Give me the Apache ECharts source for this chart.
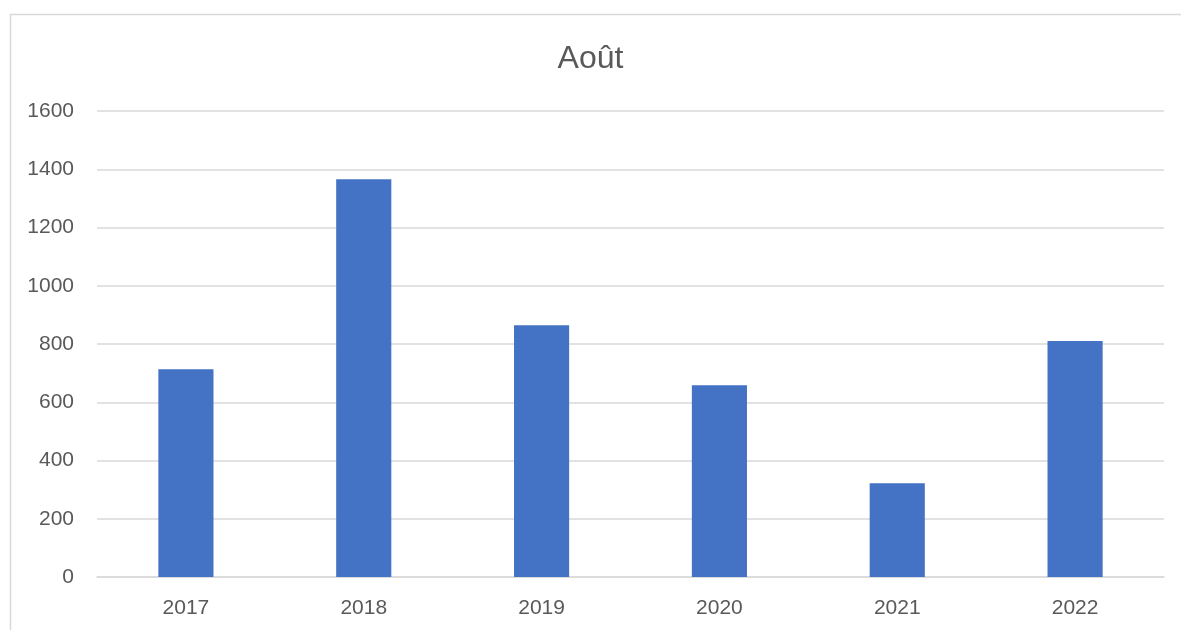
<!DOCTYPE html>
<html>
<head>
<meta charset="utf-8">
<script src="https://cdn.jsdelivr.net/npm/echarts@6/dist/echarts.min.js"></script>
<style>
html,body{margin:0;padding:0;background:#fff;}
#c{width:1181px;height:630px;}
</style>
</head>
<body>
<div id="c"></div>
<script>
const categories = ['2017','2018','2019','2020','2021','2022'];
const values = [713, 1366, 864, 658, 322, 810];
const yTicks = [0, 200, 400, 600, 800, 1000, 1200, 1400, 1600];
const titleText = 'Août';

const chart = echarts.init(document.getElementById('c'));
chart.setOption({
  animation: false,
  backgroundColor: '#fff',
  graphic: [{
    type: 'rect', left: 8, top: 12,
    shape: { width: 1200, height: 640 },
    style: { fill: 'none', stroke: '#d9d9d9', lineWidth: 1.5 },
    silent: true
  }],
  title: {
    text: titleText, left: 'center', top: 38,
    textStyle: { fontFamily: 'Liberation Sans, Arial, sans-serif', fontSize: 32, fontWeight: 'normal', color: '#595959' }
  },
  grid: { left: 97, right: 17, top: 111, bottom: 53 },
  xAxis: {
    type: 'category', data: categories,
    axisLine: { lineStyle: { color: '#d9d9d9', width: 1.5 } },
    axisTick: { show: false },
    axisLabel: { color: '#595959', fontSize: 21, margin: 21, fontFamily: 'Liberation Sans, Arial, sans-serif' }
  },
  yAxis: {
    type: 'value', min: yTicks[0], max: yTicks[yTicks.length - 1], interval: 200,
    axisLine: { show: false }, axisTick: { show: false },
    splitLine: { lineStyle: { color: '#d9d9d9', width: 1.5 } },
    axisLabel: { color: '#595959', fontSize: 21, margin: 23, fontFamily: 'Liberation Sans, Arial, sans-serif', formatter: v => String(v) }
  },
  series: [{
    type: 'bar', data: values, barWidth: '31%',
    itemStyle: { color: '#4472c4' }
  }]
});
</script>
</body>
</html>
